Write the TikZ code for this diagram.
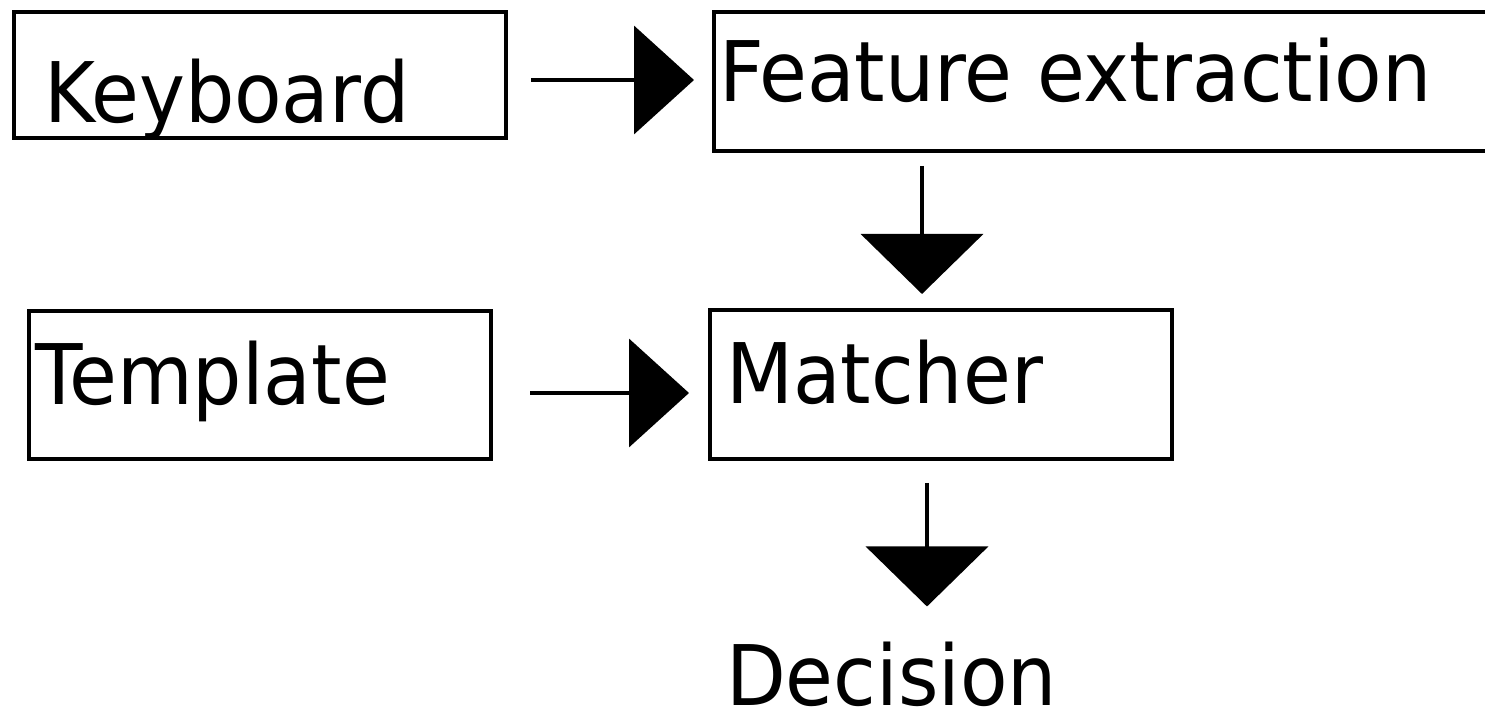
\documentclass[tikz,border=0pt]{standalone}
\usepackage{fontspec}
\newfontfamily\pixfont{DejaVu Sans}[FakeStretch=0.93]
\usetikzlibrary{arrows.meta}
\tikzset{
  box/.style={draw=black, line width=2.2pt, fill=none, inner sep=0pt, outer sep=0pt, anchor=north west},
  lbl/.style={inner sep=0pt, outer sep=0pt, anchor=base west, font=\pixfont\fontsize{41.8}{50}\selectfont},
  harr/.style={draw=black, line width=2pt, -{Triangle[length=30pt,width=54pt]}},
  varr/.style={draw=black, line width=2pt, -{Triangle[length=30pt,width=61pt]}}
}
\begin{document}
\begin{tikzpicture}[x=0.5pt,y=-0.5pt]
\useasboundingbox[fill=white] (0,0) rectangle (1485,716);
% boxes
\node[box, minimum width=246pt, minimum height=63pt] (kb) at (14,12) {};
\node[box, minimum width=387pt, minimum height=69.5pt] (fe) at (714,12) {};
\node[box, minimum width=231pt, minimum height=74pt] (tp) at (29,311) {};
\node[box, minimum width=231pt, minimum height=74.5pt] (mt) at (710,310) {};
% texts
\node[lbl] (kbt) at (44,123) {Keyboard};
\node[lbl] (fet) at (719,102) {Feature extraction};
\node[lbl] (tpt) at (35,405) {Template};
\node[lbl] (mtt) at (726,404) {Matcher};
\node[lbl] (dec) at (726,706) {Decision};
% helper coordinates for connector columns/rows
\coordinate (c1) at (922,80);
\coordinate (c2) at (927,393);
% connectors
\draw[harr, shorten <=12.5pt, shorten >=10pt] (kb.east |- c1) -- (fe.west |- c1);
\draw[harr, shorten <=19.5pt, shorten >=10.5pt] (tp.east |- c2) -- (mt.west |- c2);
\draw[varr, shorten <=7.5pt, shorten >=8pt] (fe.south -| c1) -- (mt.north -| c1);
\draw[varr, shorten <=12pt, shorten >=18pt] (mt.south -| c2) -- (dec.north -| c2);
\end{tikzpicture}
\end{document}
